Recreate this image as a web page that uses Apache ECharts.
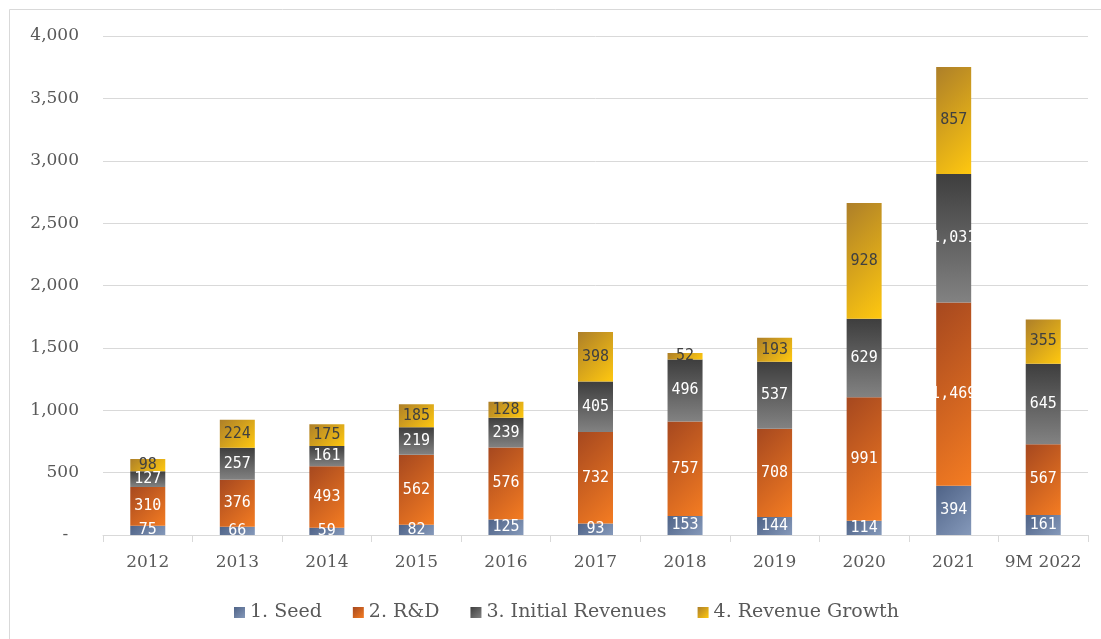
<!DOCTYPE html>
<html>
<head>
<meta charset="utf-8">
<script src="https://cdn.jsdelivr.net/npm/echarts@6/dist/echarts.min.js"></script>
<style>
html,body{margin:0;padding:0;background:#fff;}
#chart{width:1101px;height:639px;}
</style>
</head>
<body>
<div id="chart"></div>
<script>
var categories = ['2012','2013','2014','2015','2016','2017','2018','2019','2020','2021','9M 2022'];
var seed = [75,66,59,82,125,93,153,144,114,394,161];
var rnd = [310,376,493,562,576,732,757,708,991,1469,567];
var initialRevenues = [127,257,161,219,239,405,496,537,629,1031,645];
var revenueGrowth = [98,224,175,185,128,398,52,193,928,857,355];
var seriesNames = ['1. Seed','2. R&D','3. Initial Revenues','4. Revenue Growth'];

var chart = echarts.init(document.getElementById('chart'));
var BAR_W = 35, PLOT_H = 499, Y_MAX = 4000;
function stops(c1,c2){ return [{offset:0,color:c1},{offset:1,color:c2}]; }
function diag(c1,c2){
  // 45-degree (pixel space) gradient from top-left to bottom-right of each segment
  return function(p){
    var h = Math.max(1, p.value * PLOT_H / Y_MAX);
    var d = (BAR_W + h) / 2;
    return new echarts.graphic.LinearGradient(0,0,d/BAR_W,d/h,stops(c1,c2));
  };
}
function vert(c1,c2){ return new echarts.graphic.LinearGradient(0,0,0,1,stops(c1,c2)); }
function legendGrad(c1,c2){ return new echarts.graphic.LinearGradient(0,0,1,1,stops(c1,c2)); }
function fmt(v){ return Number(v).toLocaleString('en-US'); }
var axisFont = 'DejaVu Serif';
var labelFont = 'DejaVu Sans Mono';
var cols = [['#4f6387','#8599ba'],['#a6481f','#f47c22'],['#3e3e3e','#828282'],['#ad7f29','#ffc80f']];
function mk(i, data, color, labelColor){
  return {
    name: seriesNames[i], type: 'bar', stack: 'total', data: data, barWidth: BAR_W,
    itemStyle: {color: color},
    label: {show: true, position: 'inside', color: labelColor, fontFamily: labelFont, fontSize: 15,
      formatter: function(p){ return fmt(p.value); }},
    emphasis: {disabled: true}
  };
}
chart.setOption({
  animation: false,
  backgroundColor: '#ffffff',
  graphic: [{type:'rect', shape:{x:9.5,y:9.5,width:1100,height:640}, style:{fill:'none',stroke:'#d9d9d9',lineWidth:1}, silent:true}],
  grid: {left: 103, right: 13, top: 36, bottom: 104},
  legend: {
    left: 229, top: 598, itemWidth: 11, itemHeight: 11, itemGap: 31,
    icon: 'rect',
    textStyle: {fontFamily: axisFont, fontSize: 19, color: '#595959'},
    data: seriesNames.map(function(n,i){ return {name:n, itemStyle:{color: legendGrad(cols[i][0], cols[i][1])}}; })
  },
  xAxis: {
    type: 'category', data: categories,
    axisLine: {lineStyle: {color: '#d9d9d9'}},
    axisTick: {show: true, length: 7, alignWithLabel: false, lineStyle: {color: '#d9d9d9'}},
    axisLabel: {interval: 0, fontFamily: axisFont, fontSize: 17, color: '#595959', margin: 19}
  },
  yAxis: {
    type: 'value', min: 0, max: Y_MAX, interval: 500,
    axisLine: {show: false}, axisTick: {show: false},
    splitLine: {lineStyle: {color: '#d9d9d9'}},
    axisLabel: {fontFamily: axisFont, fontSize: 17, color: '#595959', margin: 24,
      formatter: function(v){ return v === 0 ? '-  ' : fmt(v); }}
  },
  series: [
    mk(0, seed, diag(cols[0][0], cols[0][1]), '#ffffff'),
    mk(1, rnd, diag(cols[1][0], cols[1][1]), '#ffffff'),
    mk(2, initialRevenues, vert(cols[2][0], cols[2][1]), '#ffffff'),
    mk(3, revenueGrowth, diag(cols[3][0], cols[3][1]), '#404040')
  ]
});
</script>
</body>
</html>
